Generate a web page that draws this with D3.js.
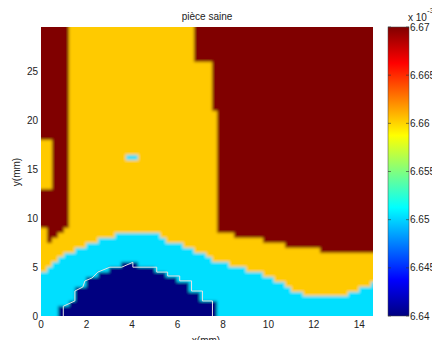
<!DOCTYPE html>
<html>
<head>
<meta charset="utf-8">
<script src="https://cdn.jsdelivr.net/npm/d3@7"></script>
<style>
  body { margin: 0; background: #fff; }
  text { font-family: "Liberation Sans", Arial, sans-serif; font-size: 10px; fill: #222; }
</style>
</head>
<body>
<svg id="chart" width="432" height="340"></svg>
<script>
// Field levels: each letter in the grid rows stands for one value of the map
const levelKeys = ["B", "C", "Y", "R"];
const levelValues = [6.640, 6.6503, 6.6603, 6.670];

// Grid spacing of the map (mm)
const cellWidth = 0.25;
const cellHeight = 0.5;

// Run-length encoded grid rows, from the top row (y = 29.5..30) down to y = 0..0.5
const gridRows = [
  "R5 Y22 R32", "R5 Y22 R32", "R5 Y22 R32", "R5 Y22 R32",
  "R5 Y22 R32", "R5 Y22 R32", "R5 Y22 R32", "R5 Y22 R32",
  "R5 Y25 R29", "R5 Y25 R29", "R5 Y25 R29", "R5 Y25 R29", "R5 Y25 R29",
  "R5 Y25 R29", "R5 Y25 R29", "R5 Y25 R29", "R5 Y25 R29", "R5 Y25 R29",
  "R5 Y26 R28", "R5 Y26 R28", "R5 Y26 R28", "R5 Y26 R28", "R5 Y26 R28", "R5 Y26 R28",
  "Y2 R3 Y26 R28", "Y2 R3 Y26 R28", "Y2 R3 Y26 R28",
  "Y2 R3 Y10 C2 Y14 R28",
  "Y2 R3 Y26 R28", "Y2 R3 Y26 R28", "Y2 R3 Y26 R28", "Y2 R3 Y26 R28",
  "Y2 R3 Y26 R28", "Y2 R3 Y26 R28",
  "R5 Y26 R28", "R5 Y26 R28", "R5 Y26 R28", "R5 Y26 R28",
  "R5 Y26 R28", "R5 Y26 R28", "R5 Y26 R28", "R5 Y26 R28",
  "Y1 R3 Y27 R28",
  "Y1 R2 Y10 C8 Y13 R25",
  "Y1 R1 Y8 C12 Y17 R20",
  "Y8 C17 Y18 R16",
  "Y6 C21 Y22 R10",
  "Y4 C25 Y30",
  "Y3 C27 Y29",
  "Y2 C12 B3 C16 Y26",
  "Y1 C11 B8 C16 Y23",
  "C10 B12 C17 Y20",
  "C8 B16 C17 Y18",
  "C8 B18 C17 Y15 C1",
  "C6 B20 C18 Y12 C3",
  "C6 B22 C18 Y8 C5",
  "C6 B22 C31",
  "C5 B26 C28",
  "C3 B28 C28",
  "C3 B28 C28"
];

// Contour line around the lowest-value zone (mm)
const outlineX = [0.98, 0.98, 1.49, 1.49, 1.84, 1.93, 2.24, 2.50, 3.03, 3.55, 4.04, 4.04, 5.09, 5.09, 5.57, 5.57, 6.10, 6.10, 6.62, 6.62, 7.10, 7.10, 7.54, 7.54];
const outlineY = [0.00, 1.00, 1.54, 2.56, 2.97, 3.59, 3.89, 4.50, 5.00, 5.00, 5.50, 5.00, 5.00, 4.50, 4.50, 4.10, 4.10, 3.60, 3.60, 2.56, 2.56, 1.54, 1.54, 0.00];

const xTicks = [0, 2, 4, 6, 8, 10, 12, 14];
const yTicks = [0, 5, 10, 15, 20, 25];
const colorTicks = [6.64, 6.645, 6.65, 6.655, 6.66, 6.665, 6.67];
const colorTickLabels = ["6.64", "6.645", "6.65", "6.655", "6.66", "6.665", "6.67"];

const W = 432, H = 340;
const svg = d3.select("#chart");
const defs = svg.append("defs");

const x = d3.scaleLinear().domain([0, 14.6]).range([41, 373]);
const y = d3.scaleLinear().domain([0, 29.6]).range([316, 27]);

// Jet colour map over the value range
const vMin = 6.64, vMax = 6.67;
const jetStops = [0, 0.125, 0.375, 0.625, 0.875, 1];
const jetColors = ["#000080", "#0000ff", "#00ffff", "#ffff00", "#ff0000", "#800000"];
const color = d3.scaleLinear()
  .domain(jetStops.map(t => vMin + t * (vMax - vMin)))
  .range(jetColors)
  .interpolate(d3.interpolateRgb)
  .clamp(true);

// Expand the encoded rows into cells
const cells = [];
const nRows = gridRows.length;
let nCols = 0;
gridRows.forEach((row, r) => {
  const j = nRows - 1 - r;
  let i = 0;
  row.split(" ").forEach(tok => {
    const key = tok[0], n = +tok.slice(1);
    const value = levelValues[levelKeys.indexOf(key)];
    for (let k = 0; k < n; k++) cells.push({ i: i + k, j, value });
    i += n;
  });
  nCols = Math.max(nCols, i);
});

// Plot area clip and soft shading filter
defs.append("clipPath").attr("id", "plotClip")
  .append("rect")
  .attr("x", x(0)).attr("y", y(29.6))
  .attr("width", x(14.6) - x(0)).attr("height", y(0) - y(29.6));

defs.append("filter").attr("id", "soft")
  .attr("filterUnits", "userSpaceOnUse")
  .attr("x", 0).attr("y", 0).attr("width", W).attr("height", H)
  .append("feGaussianBlur").attr("stdDeviation", 1.5);

const plotG = svg.append("g").attr("clip-path", "url(#plotClip)");
const fieldG = plotG.append("g").attr("filter", "url(#soft)");

const pad = 8; // edge cells reach past the frame so the blur keeps full colour at the border
fieldG.selectAll("rect").data(cells).join("rect")
  .attr("x", d => x(d.i * cellWidth) - (d.i === 0 ? pad : 0))
  .attr("y", d => y((d.j + 1) * cellHeight) - (d.j === nRows - 1 ? pad : 0))
  .attr("width", d => x((d.i + 1) * cellWidth) - x(d.i * cellWidth) + (d.i === 0 ? pad : 0) + (d.i === nCols - 1 ? pad : 0) + 0.5)
  .attr("height", d => y(d.j * cellHeight) - y((d.j + 1) * cellHeight) + (d.j === nRows - 1 ? pad : 0) + (d.j === 0 ? pad : 0) + 0.5)
  .attr("fill", d => color(d.value))
  .attr("shape-rendering", "crispEdges");

// Contour outline
const outline = outlineX.map((v, k) => [v, outlineY[k]]);
plotG.append("path")
  .datum(outline)
  .attr("d", d3.line().x(d => x(d[0])).y(d => y(d[1])))
  .attr("fill", "none")
  .attr("stroke", "#e4e4e4")
  .attr("stroke-width", 1);

// Axes labels
svg.append("g").selectAll("text").data(xTicks).join("text")
  .attr("x", d => x(d)).attr("y", 328)
  .attr("text-anchor", "middle")
  .text(d => d);

svg.append("g").selectAll("text").data(yTicks).join("text")
  .attr("x", 38).attr("y", d => y(d))
  .attr("dy", "0.35em")
  .attr("text-anchor", "end")
  .text(d => d);

svg.append("text")
  .attr("x", 207).attr("y", 20)
  .attr("text-anchor", "middle")
  .text("pièce saine");

svg.append("text")
  .attr("x", 206).attr("y", 344)
  .attr("text-anchor", "middle")
  .text("x(mm)");

svg.append("text")
  .attr("transform", "translate(20,172) rotate(-90)")
  .attr("text-anchor", "middle")
  .text("y(mm)");

// Colour bar
const cbX = 388, cbW = 21;
const cbY = d3.scaleLinear().domain([vMin, vMax]).range([316, 27]);
const grad = defs.append("linearGradient").attr("id", "jetGrad")
  .attr("x1", 0).attr("y1", 1).attr("x2", 0).attr("y2", 0);
grad.selectAll("stop").data(jetStops).join("stop")
  .attr("offset", d => d)
  .attr("stop-color", (d, k) => jetColors[k]);

svg.append("rect")
  .attr("x", cbX).attr("y", cbY(vMax))
  .attr("width", cbW).attr("height", cbY(vMin) - cbY(vMax))
  .attr("fill", "url(#jetGrad)")
  .attr("stroke", "#444").attr("stroke-width", 0.5);

const cbTicks = svg.append("g");
cbTicks.selectAll("line.l").data(colorTicks).join("line").attr("class", "l")
  .attr("x1", cbX).attr("x2", cbX + 3)
  .attr("y1", d => cbY(d)).attr("y2", d => cbY(d))
  .attr("stroke", "#333").attr("stroke-width", 0.6);
cbTicks.selectAll("line.r").data(colorTicks).join("line").attr("class", "r")
  .attr("x1", cbX + cbW - 3).attr("x2", cbX + cbW)
  .attr("y1", d => cbY(d)).attr("y2", d => cbY(d))
  .attr("stroke", "#333").attr("stroke-width", 0.6);
cbTicks.selectAll("text").data(colorTicks).join("text")
  .attr("x", cbX + cbW + 1).attr("y", d => cbY(d))
  .attr("dy", "0.35em")
  .text((d, k) => colorTickLabels[k]);

svg.append("text").attr("x", 408).attr("y", 21).text("x 10");
svg.append("text").attr("x", 427).attr("y", 13).style("font-size", "8px").text("-3");
</script>
</body>
</html>
